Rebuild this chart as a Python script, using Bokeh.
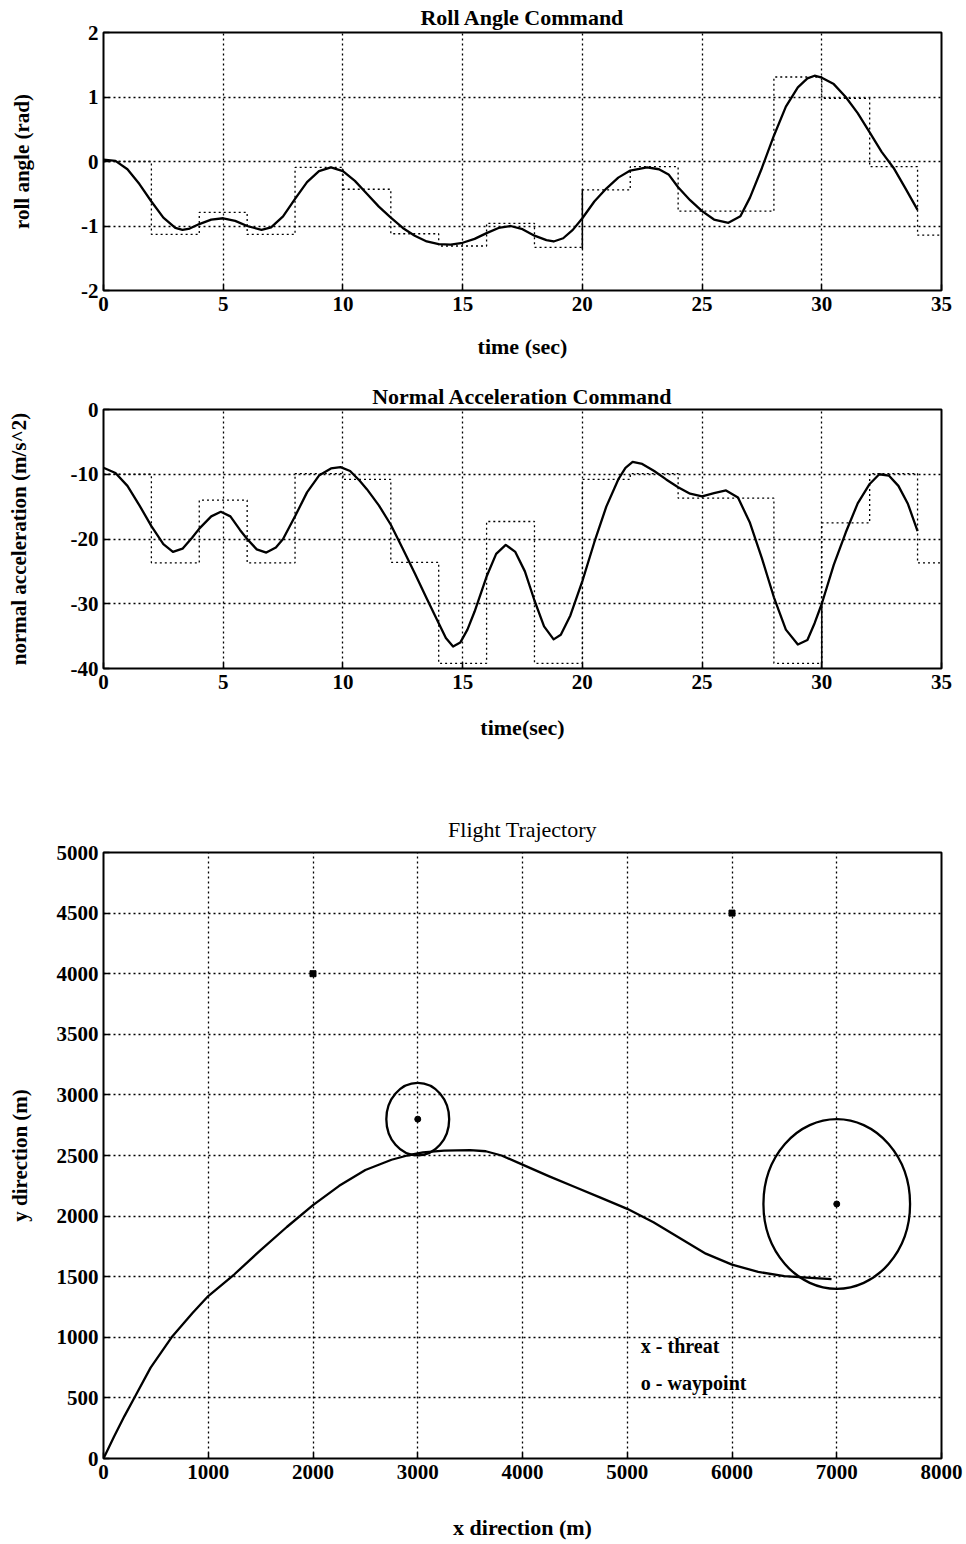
from bokeh.plotting import figure
from bokeh.models import Range1d, FixedTicker
from bokeh.layouts import column
from bokeh.embed import file_html
from bokeh.resources import INLINE
from bokeh.core.properties import value

FONT = "Liberation Serif"

# ---------------- data: roll angle ----------------
step_edges = [0, 2, 4, 6, 8, 10, 12, 14, 16, 18, 20, 22, 24, 26, 28, 30, 32, 34, 35]
roll_cmd = [0.0, -1.13, -0.79, -1.13, -0.09, -0.43, -1.12, -1.31, -0.96, -1.33,
            -0.44, -0.08, -0.77, -0.77, 1.31, 0.98, -0.08, -1.14, -1.14]
roll_t = [0, 0.5, 1, 1.5, 2, 2.5, 3, 3.3, 3.6, 4, 4.5, 5, 5.5, 6, 6.6, 7, 7.5, 8, 8.5, 9,
          9.5, 10, 10.5, 11, 11.5, 12, 12.5, 13, 13.5, 14, 14.5, 15, 15.5, 16, 16.5, 17,
          17.5, 18, 18.5, 18.8, 19.2, 19.6, 20, 20.5, 21, 21.5, 22, 22.7, 23.2, 23.6, 24,
          24.5, 25, 25.5, 26.1, 26.6, 27, 27.5, 28, 28.5, 29, 29.4, 29.7, 30, 30.5, 31,
          31.5, 32, 32.5, 33, 33.5, 34]
roll_resp = [0.03, 0.01, -0.12, -0.35, -0.62, -0.87, -1.03, -1.06, -1.04, -0.97, -0.9,
             -0.88, -0.92, -1.0, -1.06, -1.02, -0.85, -0.58, -0.32, -0.15,
             -0.09, -0.15, -0.3, -0.5, -0.7, -0.87, -1.03, -1.15, -1.24, -1.28, -1.29,
             -1.26, -1.2, -1.11, -1.03, -1.0, -1.05, -1.15, -1.22, -1.24, -1.19, -1.06,
             -0.88, -0.62, -0.42, -0.25, -0.14, -0.09, -0.12, -0.2, -0.4, -0.6, -0.77,
             -0.9, -0.95, -0.85, -0.56, -0.1, 0.4, 0.85, 1.15, 1.29, 1.33, 1.3, 1.2, 1.0,
             0.75, 0.45, 0.15, -0.1, -0.42, -0.75]
roll_solid_t = [20, 20]
roll_solid_v = [-1.36, -0.43]
roll_xticks = [0, 5, 10, 15, 20, 25, 30, 35]
roll_yticks = [-2, -1, 0, 1, 2]

# ---------------- data: normal acceleration ----------------
acc_cmd = [-10.0, -23.7, -14.0, -23.7, -9.9, -10.8, -23.6, -39.2, -17.3, -39.2,
           -10.8, -9.9, -13.7, -13.7, -39.2, -17.5, -9.9, -23.7, -23.7]
acc_t = [0, 0.5, 1, 1.5, 2, 2.5, 2.9, 3.3, 3.7, 4, 4.5, 4.9, 5.3, 5.7, 6, 6.4, 6.8, 7.2,
         7.5, 8, 8.5, 9, 9.5, 9.9, 10.3, 10.7, 11, 11.5, 12, 12.5, 13, 13.5, 14, 14.3,
         14.6, 14.9, 15.2, 15.5, 16, 16.4, 16.8, 17.2, 17.6, 18, 18.4, 18.8, 19.1, 19.5,
         20, 20.5, 21, 21.5, 21.8, 22.1, 22.5, 23, 23.5, 24, 24.5, 25, 25.5, 26, 26.5,
         27, 27.5, 28, 28.5, 29, 29.4, 29.7, 30, 30.5, 31, 31.5, 32, 32.4, 32.8, 33.2,
         33.6, 34]
acc_resp = [-9.0, -9.8, -11.8, -14.8, -18.0, -20.8, -22.0, -21.5, -19.8, -18.4, -16.5,
            -15.8, -16.5, -18.6, -20.0, -21.6, -22.1, -21.3, -20.0, -16.5, -12.8, -10.2,
            -9.1, -8.9, -9.5, -11.0, -12.3, -14.8, -17.8, -21.5, -25.3, -29.2, -33.0,
            -35.3, -36.6, -36.0, -34.0, -31.2, -25.8, -22.3, -20.9, -22.0, -25.0, -29.5,
            -33.5, -35.5, -34.8, -31.8, -26.5, -20.5, -15.0, -10.8, -9.0, -8.1, -8.4,
            -9.5, -10.8, -12.0, -13.0, -13.4, -12.9, -12.5, -13.6, -17.5, -23.0, -29.0,
            -34.0, -36.3, -35.6, -33.0, -30.0, -24.0, -19.0, -14.5, -11.5, -10.0, -10.2,
            -11.8, -14.6, -18.8]
acc_solid_t = [30, 30]
acc_solid_v = [-40, -30]
acc_xticks = [0, 5, 10, 15, 20, 25, 30, 35]
acc_yticks = [-40, -30, -20, -10, 0]

# ---------------- data: trajectory ----------------
traj_x = [0, 100, 200, 300, 450, 650, 850, 1000, 1250, 1500, 1750, 2000, 2250, 2500,
          2750, 2900, 3050, 3250, 3500, 3650, 3800, 4000, 4250, 4500, 4750, 5000, 5250,
          5500, 5750, 6000, 6250, 6500, 6750, 6950]
traj_y = [0, 180, 350, 510, 750, 1000, 1200, 1340, 1520, 1720, 1910, 2090, 2250, 2380,
          2465, 2500, 2525, 2540, 2545, 2535, 2500, 2425, 2330, 2240, 2150, 2060, 1950,
          1820, 1690, 1600, 1540, 1505, 1490, 1480]
waypoint_x = [3000, 7000]
waypoint_y = [2800, 2100]
waypoint_r = [300, 700]
threat_x = [2000, 6000]
threat_y = [4000, 4500]
traj_xticks = [0, 1000, 2000, 3000, 4000, 5000, 6000, 7000, 8000]
traj_yticks = [0, 500, 1000, 1500, 2000, 2500, 3000, 3500, 4000, 4500, 5000]


def style(p, xticks, yticks, tick_size, title_style, title_standoff,
          x_lab_standoff, y_lab_standoff, y_lab_size):
    p.outline_line_color = "black"
    p.outline_line_width = 2
    p.background_fill_color = "white"
    p.border_fill_color = "white"
    p.title.text_font = FONT
    p.title.text_font_size = "22px"
    p.title.text_font_style = title_style
    p.title.text_color = "black"
    p.title.align = "center"
    p.title.standoff = title_standoff
    p.xaxis.ticker = FixedTicker(ticks=xticks)
    p.yaxis.ticker = FixedTicker(ticks=yticks)
    p.xaxis[0].major_label_overrides = {t: str(t) for t in xticks}
    p.yaxis[0].major_label_overrides = {t: str(t) for t in yticks}
    for ax in (p.xaxis[0], p.yaxis[0]):
        ax.axis_line_color = None
        ax.major_tick_in = 6
        ax.major_tick_out = 0
        ax.major_tick_line_width = 1.5
        ax.minor_tick_line_color = None
        ax.major_label_text_font = FONT
        ax.major_label_text_font_style = "bold"
        ax.major_label_text_font_size = tick_size
        ax.major_label_text_color = "black"
        ax.axis_label_text_font = FONT
        ax.axis_label_text_font_style = "bold"
        ax.axis_label_text_font_size = "22px"
        ax.axis_label_text_color = "black"
    p.xaxis[0].major_label_standoff = 6
    p.yaxis[0].major_label_standoff = 5
    p.xaxis[0].axis_label_standoff = x_lab_standoff
    p.yaxis[0].axis_label_standoff = y_lab_standoff
    p.yaxis[0].axis_label_text_font_size = y_lab_size
    p.xgrid[0].ticker = FixedTicker(ticks=xticks)
    p.ygrid[0].ticker = FixedTicker(ticks=yticks)
    for g in (p.xgrid[0], p.ygrid[0]):
        g.grid_line_color = "black"
        g.grid_line_dash = "2 3"
        g.grid_line_width = 1.3


# ---------------- figure 1 ----------------
p1 = figure(width=966, height=370, x_range=Range1d(0, 35), y_range=Range1d(-2, 2),
            title="Roll Angle Command", x_axis_label="time (sec)",
            y_axis_label="roll angle (rad)", output_backend="svg",
            toolbar_location=None, min_border_left=99, min_border_right=19,
            min_border_top=32, min_border_bottom=80)
style(p1, roll_xticks, roll_yticks, "21px", "bold", 5, 20, 44, "21px")
p1.step(step_edges, roll_cmd, mode="after", line_color="black", line_width=1.3,
        line_dash="2 3")
p1.line(roll_solid_t, roll_solid_v, line_color="black", line_width=1.5)
p1.line(roll_t, roll_resp, line_color="black", line_width=2.3, line_join="round")

# ---------------- figure 2 ----------------
p2 = figure(width=966, height=390, x_range=Range1d(0, 35), y_range=Range1d(-40, 0),
            title="Normal Acceleration Command", x_axis_label="time(sec)",
            y_axis_label="normal acceleration (m/s^2)", output_backend="svg",
            toolbar_location=None, min_border_left=99, min_border_right=19,
            min_border_top=39, min_border_bottom=92)
style(p2, acc_xticks, acc_yticks, "21px", "bold", 2, 23, 37, "21px")
p2.step(step_edges, acc_cmd, mode="after", line_color="black", line_width=1.3,
        line_dash="2 3")
p2.line(acc_solid_t, acc_solid_v, line_color="black", line_width=1.5)
p2.line(acc_t, acc_resp, line_color="black", line_width=2.3, line_join="round")

# ---------------- figure 3 ----------------
p3 = figure(width=966, height=784, x_range=Range1d(0, 8000), y_range=Range1d(0, 5000),
            title="Flight Trajectory", x_axis_label="x direction (m)",
            y_axis_label="y direction (m)", output_backend="svg",
            toolbar_location=None, min_border_left=103, min_border_right=25,
            min_border_top=92, min_border_bottom=86)
style(p3, traj_xticks, traj_yticks, "21px", "normal", 21, 33, 22, "21px")
p3.line(traj_x, traj_y, line_color="black", line_width=2.3, line_join="round")
p3.ellipse(x=waypoint_x, y=waypoint_y, width=[2 * r for r in waypoint_r],
           height=[2 * r for r in waypoint_r], fill_color=None, line_color="black",
           line_width=2.3)
p3.scatter(waypoint_x, waypoint_y, marker="circle", size=6, color="black")
p3.scatter(threat_x, threat_y, marker="square", size=6, color="black")
p3.text(x=[5130, 5130], y=[930, 620], text=["x - threat", "o - waypoint"],
        text_font=value(FONT), text_font_style="bold", text_font_size="20px",
        text_baseline="middle", text_align="left", text_color="black")

layout = column(p1, p2, p3, spacing=0)
open("out.html", "w").write(file_html(layout, INLINE))
